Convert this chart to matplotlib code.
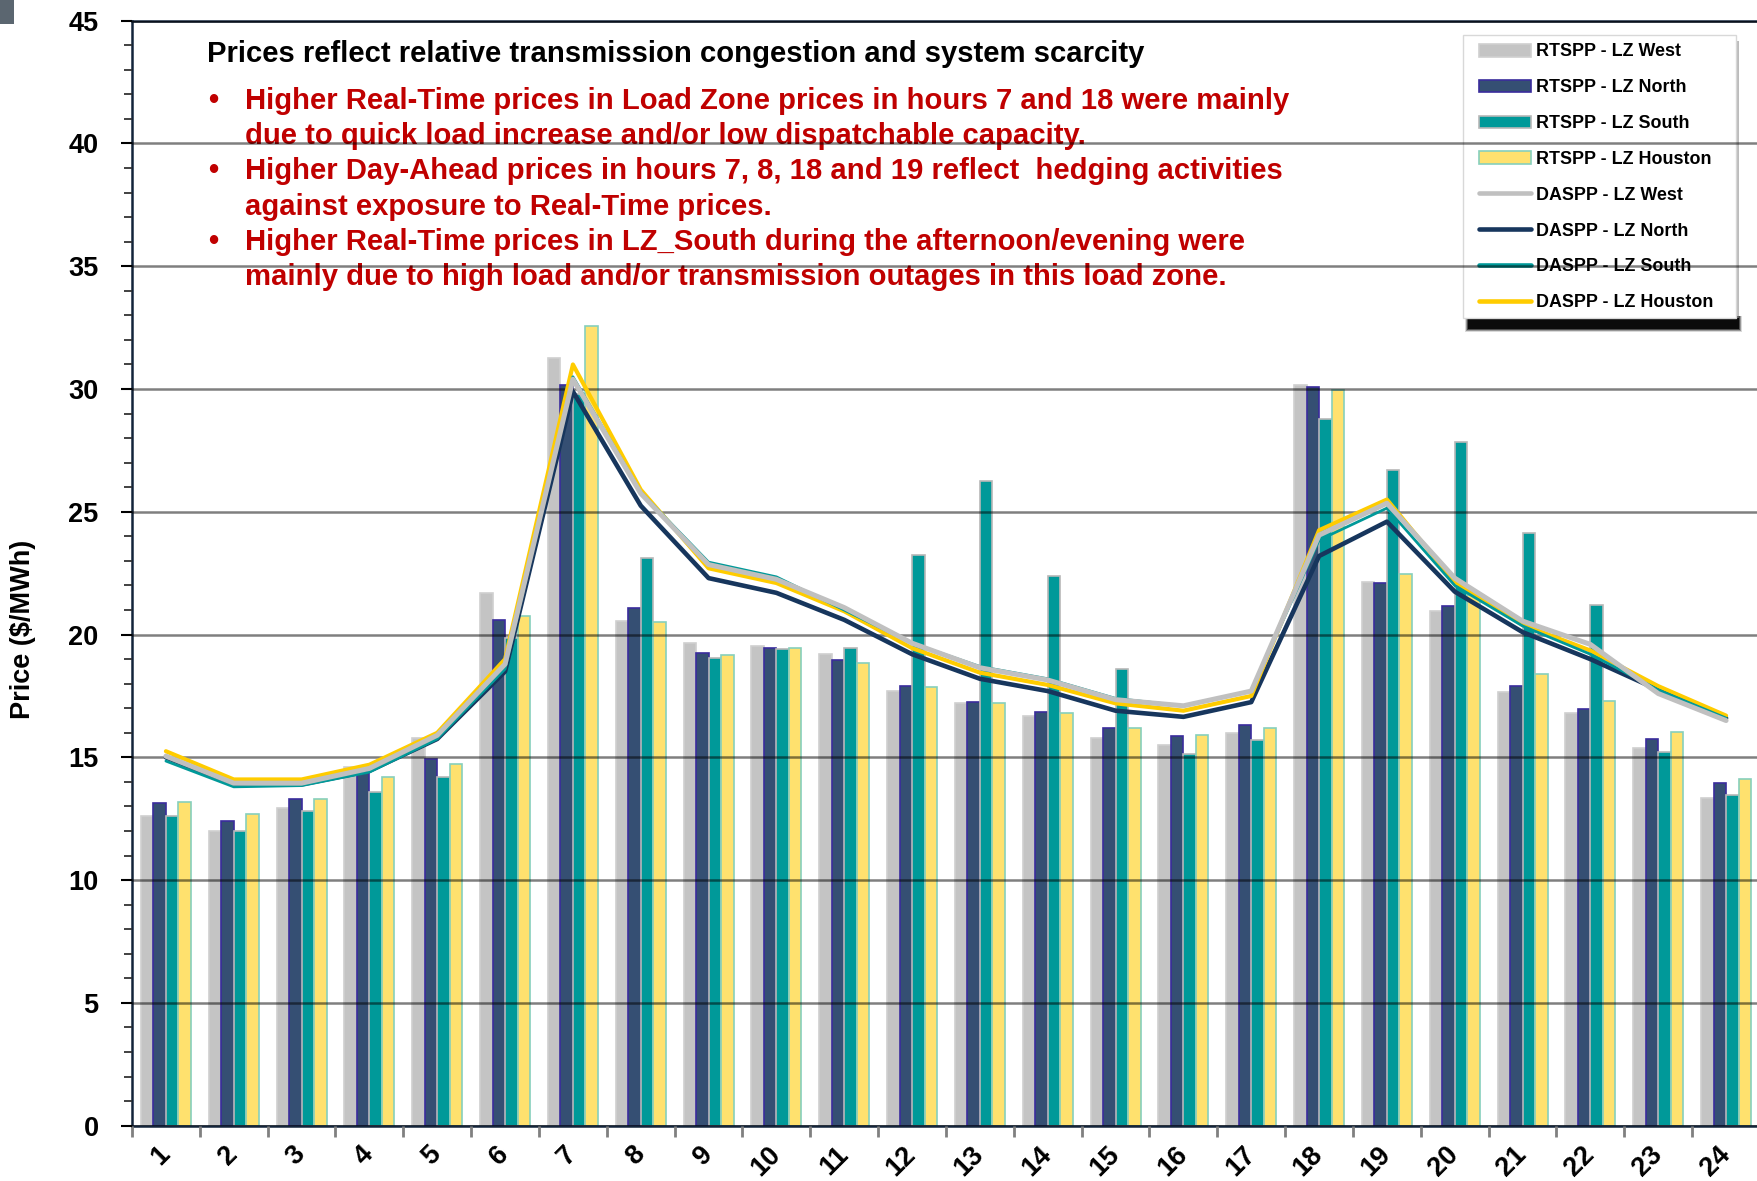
import numpy as np
import matplotlib
matplotlib.use('Agg')
import matplotlib.pyplot as plt
from matplotlib.patches import Rectangle, Patch
from matplotlib.lines import Line2D
from matplotlib.ticker import MultipleLocator

# Datos: precios por hora ($/MWh)
hours = [str(h) for h in range(1, 25)]

rt_west = [12.6, 12.0, 12.95, 14.6, 15.8, 21.7, 31.25, 20.55, 19.65, 19.55, 19.2, 17.7,
           17.2, 16.7, 15.8, 15.5, 16.0, 30.15, 22.15, 20.95, 17.65, 16.8, 15.4, 13.35]
rt_north = [13.15, 12.4, 13.3, 14.4, 14.95, 20.6, 30.15, 21.1, 19.25, 19.45, 18.95, 17.9,
            17.25, 16.85, 16.2, 15.85, 16.3, 30.1, 22.1, 21.15, 17.9, 16.95, 15.75, 13.95]
rt_south = [12.6, 12.0, 12.8, 13.6, 14.2, 19.85, 29.8, 23.1, 19.05, 19.4, 19.45, 23.25,
            26.25, 22.4, 18.6, 15.15, 15.7, 28.8, 26.7, 27.85, 24.15, 21.2, 15.2, 13.45]
rt_houston = [13.2, 12.7, 13.3, 14.2, 14.75, 20.75, 32.55, 20.5, 19.15, 19.45, 18.85, 17.85,
              17.2, 16.8, 16.2, 15.9, 16.2, 29.95, 22.45, 21.6, 18.4, 17.3, 16.05, 14.1]

da_west = [15.05, 13.95, 13.95, 14.55, 15.9, 18.8, 30.4, 25.75, 22.85, 22.25, 21.1, 19.65,
           18.65, 18.15, 17.35, 17.1, 17.7, 24.05, 25.35, 22.3, 20.55, 19.6, 17.6, 16.5]
da_north = [15.0, 13.9, 13.9, 14.45, 15.75, 18.5, 29.9, 25.25, 22.3, 21.7, 20.6, 19.2,
            18.2, 17.7, 16.9, 16.65, 17.25, 23.2, 24.6, 21.75, 20.1, 19.0, 17.75, 16.6]
da_south = [14.85, 13.8, 13.85, 14.4, 15.75, 18.6, 30.5, 25.8, 22.95, 22.35, 21.0, 19.65,
            18.7, 18.2, 17.4, 17.1, 17.7, 23.85, 25.15, 22.0, 20.35, 19.2, 17.75, 16.6]
da_houston = [15.25, 14.1, 14.1, 14.7, 16.0, 19.0, 31.0, 25.9, 22.7, 22.1, 20.95, 19.45,
              18.45, 17.95, 17.2, 16.9, 17.5, 24.25, 25.5, 22.15, 20.4, 19.35, 17.9, 16.7]

title = "Prices reflect relative transmission congestion and system scarcity"
notes = [
    ["Higher Real-Time prices in Load Zone prices in hours 7 and 18 were mainly",
     "due to quick load increase and/or low dispatchable capacity."],
    ["Higher Day-Ahead prices in hours 7, 8, 18 and 19 reflect  hedging activities",
     "against exposure to Real-Time prices."],
    ["Higher Real-Time prices in LZ_South during the afternoon/evening were",
     "mainly due to high load and/or transmission outages in this load zone."],
]

plt.rcParams['font.family'] = 'Liberation Sans'
plt.rcParams['font.weight'] = 'bold'

W, H = 1758, 1181
fig = plt.figure(figsize=(W / 100, H / 100), dpi=100)
ax = fig.add_axes([132 / W, 1 - 1125.7 / H, (1760 - 132) / W, (1125.7 - 20.7) / H])


def fx(px):
    return px / W


def fy(py):
    return 1 - py / H


# Barras (RTSPP)
x = np.arange(len(hours))
bw = 0.184
ax.bar(x - 1.5 * bw, rt_west, bw, color='#c4c4c4', edgecolor='#d0d0d0', linewidth=1.2, zorder=2)
ax.bar(x - 0.5 * bw, rt_north, bw, color='#354f73', edgecolor='#3a2c9c', linewidth=1.2, zorder=2)
ax.bar(x + 0.5 * bw, rt_south, bw, color='#009999', edgecolor='#b8b8b8', linewidth=1.2, zorder=2)
ax.bar(x + 1.5 * bw, rt_houston, bw, color='#ffe16e', edgecolor='#86d0bc', linewidth=1.2, zorder=2)

# Lineas (DASPP)
lkw = dict(solid_joinstyle='round', solid_capstyle='round')
ax.plot(x, da_north, color='#17365d', lw=3.3, zorder=3, **lkw)
ax.plot(x, da_houston, color='#ffcc00', lw=3.0, zorder=4, **lkw)
ax.plot(x, da_south, color='#009999', lw=2.0, zorder=5, **lkw)
ax.plot(x, da_west, color='#c0c0c0', lw=3.6, zorder=6, **lkw)

# Ejes
ax.set_xlim(-0.5, 23.5)
ax.set_ylim(0, 45)
ax.set_yticks(range(0, 46, 5))
ax.yaxis.set_minor_locator(MultipleLocator(1))
ax.tick_params(axis='y', which='major', length=8, width=1.5, pad=16, labelsize=19.5, colors='black')
ax.tick_params(axis='y', which='minor', length=5.5, width=1.3, color='#333333')

ax.set_xticks(np.arange(-0.5, 24, 1))
ax.tick_params(axis='x', which='major', length=8, width=2, color='#808080', labelbottom=False)
ax.set_xticks(x, minor=True)
ax.set_xticklabels(hours, minor=True, rotation=45, ha='right', va='center', rotation_mode='anchor')
ax.tick_params(axis='x', which='minor', length=0, pad=18, labelsize=19.5)

ax.set_axisbelow(False)
ax.yaxis.grid(True, which='major', color='black', alpha=0.5, lw=1.8)
ax.xaxis.grid(False)

for s in ['left', 'bottom', 'top']:
    ax.spines[s].set_color('#13243a')
    ax.spines[s].set_linewidth(1.8)
ax.spines['right'].set_visible(False)

fig.text(fx(23), fy(629), 'Price ($/MWh)', rotation=90, ha='center', va='center', fontsize=19.5)

# Texto de anotaciones (debajo de la grilla)
ax.text(fx(207), fy(62), title, transform=fig.transFigure, fontsize=21.1, color='black',
        va='baseline', zorder=1)
base = 109
step = 35.2
i = 0
for note in notes:
    ax.text(fx(208), fy(base + i * step), '•', transform=fig.transFigure, fontsize=21,
            color='#c00000', va='baseline', zorder=1)
    for line in note:
        ax.text(fx(245), fy(base + i * step), line, transform=fig.transFigure, fontsize=21.1,
                color='#c00000', va='baseline', zorder=1)
        i += 1

# Leyenda con caja y sombra
handles = [
    Patch(facecolor='#c4c4c4', edgecolor='#d0d0d0', lw=1.2),
    Patch(facecolor='#354f73', edgecolor='#3a2c9c', lw=1.2),
    Patch(facecolor='#009999', edgecolor='#b8b8b8', lw=1.2),
    Patch(facecolor='#ffe16e', edgecolor='#86d0bc', lw=1.2),
    Line2D([], [], color='#c0c0c0', lw=3.3, solid_capstyle='round'),
    Line2D([], [], color='#17365d', lw=3.3, solid_capstyle='round'),
    Line2D([], [], color='#009999', lw=3.3, solid_capstyle='round'),
    Line2D([], [], color='#ffcc00', lw=3.3, solid_capstyle='round'),
]
labels = ['RTSPP - LZ West', 'RTSPP - LZ North', 'RTSPP - LZ South', 'RTSPP - LZ Houston',
          'DASPP - LZ West', 'DASPP - LZ North', 'DASPP - LZ South', 'DASPP - LZ Houston']
leg = ax.legend(handles, labels, loc='upper left', bbox_to_anchor=(fx(1479), fy(43.5)),
                bbox_transform=fig.transFigure, frameon=False, fontsize=12.9,
                handlelength=2.9, handletextpad=0.3, labelspacing=1.05,
                borderpad=0, borderaxespad=0)
leg.set_zorder(2.2)

bx0, bx1, by0, by1 = 1462.7, 1736, 35, 317.7
# sombra negra difusa bajo la caja
for k, a in enumerate([0.15, 0.3, 0.5, 0.85]):
    g = 3 - k
    ax.add_patch(Rectangle((fx(bx0 + 5 - g), fy(by1 + 11 + g)), (bx1 - bx0 - 2 + 2 * g) / W,
                           (11 + g + 2) / H, transform=fig.transFigure,
                           facecolor='black', edgecolor='none', alpha=a, zorder=2.0))
ax.add_patch(Rectangle((fx(bx1), fy(by1)), 3 / W, (by1 - by0 - 6) / H,
                       transform=fig.transFigure, facecolor='#909090', edgecolor='none',
                       alpha=0.6, zorder=2.0))
ax.add_patch(Rectangle((fx(bx0), fy(by1)), (bx1 - bx0) / W, (by1 - by0) / H,
                       transform=fig.transFigure, facecolor='white', edgecolor='#d8d8d8',
                       lw=1, zorder=2.1))

# Cuadro gris de la diapositiva
fig.add_artist(Rectangle((0, fy(24)), fx(14), 24 / H, transform=fig.transFigure,
                         facecolor='#5b6670', edgecolor='none'))

fig.savefig('out.png', dpi=100)
